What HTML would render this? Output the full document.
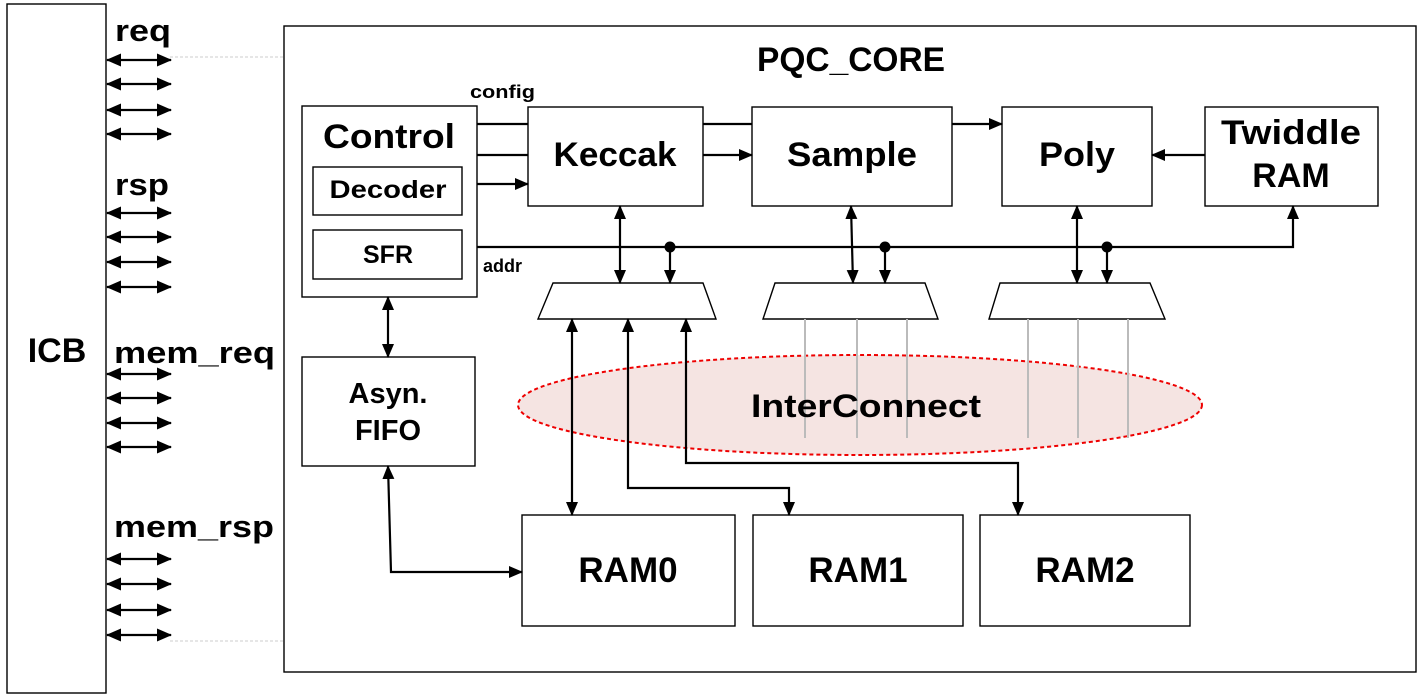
<!DOCTYPE html>
<html><head><meta charset="utf-8"><style>body{margin:0;background:#fff}svg{display:block}text{font-family:"Liberation Sans",sans-serif;font-weight:bold;fill:#000}</style></head><body>
<svg width="1426" height="698" viewBox="0 0 1426 698" xmlns="http://www.w3.org/2000/svg">
<defs>
<marker id="a" markerWidth="14" markerHeight="12" refX="13" refY="6" orient="auto-start-reverse" markerUnits="userSpaceOnUse" viewBox="0 0 14 12"><path d="M0,0 L14,6 L0,12 z" fill="#000"/></marker>
<marker id="b" markerWidth="15" markerHeight="13" refX="14" refY="6.5" orient="auto-start-reverse" markerUnits="userSpaceOnUse" viewBox="0 0 15 13"><path d="M0,0 L15,6.5 L0,13 z" fill="#000"/></marker>
</defs>
<g fill="none" stroke="#000" stroke-width="1.4">
<rect x="7" y="4" width="99" height="689"/>
<rect x="284" y="26" width="1132" height="646"/>
<rect x="302" y="106" width="175" height="191"/>
<rect x="313" y="167" width="149" height="48"/>
<rect x="313" y="230" width="149" height="49"/>
<rect x="528" y="107" width="175" height="99"/>
<rect x="752" y="107" width="200" height="99"/>
<rect x="1002" y="107" width="150" height="99"/>
<rect x="1205" y="107" width="173" height="99"/>
<rect x="302" y="357" width="173" height="109"/>
<rect x="522" y="515" width="213" height="111"/>
<rect x="753" y="515" width="210" height="111"/>
<rect x="980" y="515" width="210" height="111"/>
<path d="M553,283 H703 L716,319 H538 Z"/>
<path d="M775,283 H925 L938,319 H763 Z"/>
<path d="M1000,283 H1150 L1165,319 H989 Z"/>
</g>
<ellipse cx="860" cy="405" rx="342" ry="50" fill="#f5e4e2" stroke="#e00" stroke-width="2" stroke-dasharray="4,3"/>
<g stroke="#bbb" stroke-width="2">
<line x1="805" y1="319" x2="805" y2="438"/><line x1="857" y1="319" x2="857" y2="438"/><line x1="907" y1="319" x2="907" y2="438"/>
<line x1="1028" y1="319" x2="1028" y2="438"/><line x1="1078" y1="319" x2="1078" y2="438"/><line x1="1128" y1="319" x2="1128" y2="438"/>
</g>
<g stroke="#ccc" stroke-width="1" stroke-dasharray="3,2">
<line x1="170" y1="57" x2="284" y2="57"/><line x1="170" y1="641" x2="284" y2="641"/>
</g>
<g stroke="#000" stroke-width="2.2" fill="none">
<line x1="107" y1="60" x2="171" y2="60" marker-start="url(#b)" marker-end="url(#b)"/>
<line x1="107" y1="84" x2="171" y2="84" marker-start="url(#b)" marker-end="url(#b)"/>
<line x1="107" y1="110" x2="171" y2="110" marker-start="url(#b)" marker-end="url(#b)"/>
<line x1="107" y1="134" x2="171" y2="134" marker-start="url(#b)" marker-end="url(#b)"/>
<line x1="107" y1="213" x2="171" y2="213" marker-start="url(#b)" marker-end="url(#b)"/>
<line x1="107" y1="237" x2="171" y2="237" marker-start="url(#b)" marker-end="url(#b)"/>
<line x1="107" y1="262" x2="171" y2="262" marker-start="url(#b)" marker-end="url(#b)"/>
<line x1="107" y1="287" x2="171" y2="287" marker-start="url(#b)" marker-end="url(#b)"/>
<line x1="107" y1="374" x2="171" y2="374" marker-start="url(#b)" marker-end="url(#b)"/>
<line x1="107" y1="398" x2="171" y2="398" marker-start="url(#b)" marker-end="url(#b)"/>
<line x1="107" y1="423" x2="171" y2="423" marker-start="url(#b)" marker-end="url(#b)"/>
<line x1="107" y1="447" x2="171" y2="447" marker-start="url(#b)" marker-end="url(#b)"/>
<line x1="107" y1="559" x2="171" y2="559" marker-start="url(#b)" marker-end="url(#b)"/>
<line x1="107" y1="584" x2="171" y2="584" marker-start="url(#b)" marker-end="url(#b)"/>
<line x1="107" y1="610" x2="171" y2="610" marker-start="url(#b)" marker-end="url(#b)"/>
<line x1="107" y1="635" x2="171" y2="635" marker-start="url(#b)" marker-end="url(#b)"/>
<line x1="477" y1="124" x2="528" y2="124"/>
<line x1="703" y1="124" x2="752" y2="124"/>
<line x1="952" y1="124" x2="1002" y2="124" marker-end="url(#a)"/>
<line x1="477" y1="155" x2="528" y2="155"/>
<line x1="703" y1="155" x2="752" y2="155" marker-end="url(#a)"/>
<line x1="477" y1="184" x2="528" y2="184" marker-end="url(#a)"/>
<line x1="1205" y1="155" x2="1152" y2="155" marker-end="url(#a)"/>
<path d="M477,247 H1293 V206" marker-end="url(#a)"/>
<line x1="670" y1="247" x2="670" y2="283" marker-end="url(#a)"/>
<line x1="885" y1="247" x2="885" y2="283" marker-end="url(#a)"/>
<line x1="1107" y1="247" x2="1107" y2="283" marker-end="url(#a)"/>
<line x1="620" y1="206" x2="620" y2="283" marker-start="url(#a)" marker-end="url(#a)"/>
<line x1="851" y1="206" x2="853" y2="283" marker-start="url(#a)" marker-end="url(#a)"/>
<line x1="1077" y1="206" x2="1077" y2="283" marker-start="url(#a)" marker-end="url(#a)"/>
<line x1="572" y1="319" x2="572" y2="515" marker-start="url(#a)" marker-end="url(#a)"/>
<path d="M628,319 V488 H789 V515" marker-start="url(#a)" marker-end="url(#a)"/>
<path d="M686,319 V463 H1018 V515" marker-start="url(#a)" marker-end="url(#a)"/>
<line x1="388" y1="297" x2="388" y2="357" marker-start="url(#a)" marker-end="url(#a)"/>
<path d="M388,466 L391,572 H522" marker-start="url(#a)" marker-end="url(#a)"/>
</g>
<g fill="#000"><circle cx="670" cy="247" r="5.5"/><circle cx="885" cy="247" r="5.5"/><circle cx="1107" cy="247" r="5.5"/></g>
<text x="57" y="362" font-size="34" text-anchor="middle">ICB</text>
<text x="115" y="41" font-size="31" textLength="56" lengthAdjust="spacingAndGlyphs">req</text>
<text x="115" y="195" font-size="31" textLength="54" lengthAdjust="spacingAndGlyphs">rsp</text>
<text x="114" y="363" font-size="31" textLength="161" lengthAdjust="spacingAndGlyphs">mem_req</text>
<text x="114" y="537" font-size="31" textLength="160" lengthAdjust="spacingAndGlyphs">mem_rsp</text>
<text x="851" y="71" font-size="34" text-anchor="middle" textLength="188" lengthAdjust="spacingAndGlyphs">PQC_CORE</text>
<text x="389" y="148" font-size="34" text-anchor="middle" textLength="132" lengthAdjust="spacingAndGlyphs">Control</text>
<text x="388" y="198" font-size="25" text-anchor="middle" textLength="117" lengthAdjust="spacingAndGlyphs">Decoder</text>
<text x="388" y="263" font-size="25" text-anchor="middle">SFR</text>
<text x="470" y="98" font-size="18" textLength="65" lengthAdjust="spacingAndGlyphs">config</text>
<text x="483" y="272" font-size="18">addr</text>
<text x="615" y="166" font-size="34" text-anchor="middle" textLength="123" lengthAdjust="spacingAndGlyphs">Keccak</text>
<text x="852" y="166" font-size="34" text-anchor="middle" textLength="130" lengthAdjust="spacingAndGlyphs">Sample</text>
<text x="1077" y="166" font-size="34" text-anchor="middle" textLength="76" lengthAdjust="spacingAndGlyphs">Poly</text>
<text x="1291" y="144" font-size="34" text-anchor="middle" textLength="140" lengthAdjust="spacingAndGlyphs">Twiddle</text>
<text x="1291" y="187" font-size="34" text-anchor="middle">RAM</text>
<text x="388" y="403" font-size="29" text-anchor="middle">Asyn.</text>
<text x="388" y="440" font-size="29" text-anchor="middle">FIFO</text>
<text x="866" y="417" font-size="32" text-anchor="middle" textLength="230" lengthAdjust="spacingAndGlyphs">InterConnect</text>
<text x="628" y="582" font-size="35" text-anchor="middle">RAM0</text>
<text x="858" y="582" font-size="35" text-anchor="middle">RAM1</text>
<text x="1085" y="582" font-size="35" text-anchor="middle">RAM2</text>
</svg>
</body></html>
